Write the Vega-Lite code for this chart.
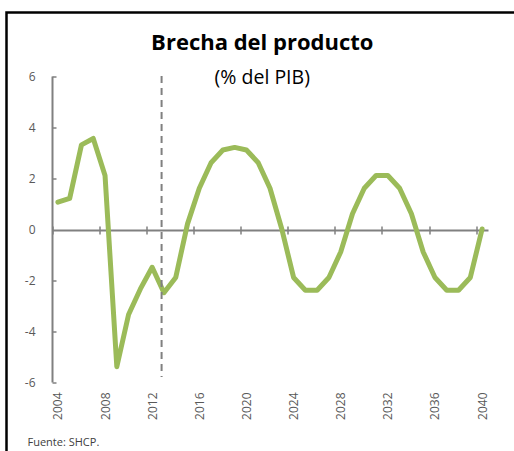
{
  "$schema": "https://vega.github.io/schema/vega-lite/v6.json",
  "width": 507.5,
  "height": 438.5,
  "autosize": {"type": "none"},
  "padding": {"left": 6.5, "top": 12.5, "right": 0, "bottom": 0},
  "background": "white",
  "view": {"stroke": "black", "strokeWidth": 2.5, "strokeDash": [507.5, 946, 500], "fill": "white"},
  "title": {
    "text": "Brecha del producto",
    "subtitle": "(% del PIB)",
    "anchor": "middle",
    "frame": "group",
    "dx": 2,
    "font": "Open Sans",
    "fontSize": 22,
    "fontWeight": "bold",
    "color": "black",
    "subtitleFont": "Open Sans",
    "subtitleFontSize": 19.5,
    "subtitleColor": "black",
    "subtitlePadding": 14,
    "offset": -76
  },
  "layer": [
    {
      "data": {"values": [
        {"year": 2004, "value": 1.05}, {"year": 2005, "value": 1.2}, {"year": 2006, "value": 3.3},
        {"year": 2007, "value": 3.55}, {"year": 2008, "value": 2.1}, {"year": 2009, "value": -5.4},
        {"year": 2010, "value": -3.35}, {"year": 2011, "value": -2.35}, {"year": 2012, "value": -1.5},
        {"year": 2013, "value": -2.5}, {"year": 2014, "value": -1.9}, {"year": 2015, "value": 0.2},
        {"year": 2016, "value": 1.6}, {"year": 2017, "value": 2.6}, {"year": 2018, "value": 3.1},
        {"year": 2019, "value": 3.2}, {"year": 2020, "value": 3.1}, {"year": 2021, "value": 2.6},
        {"year": 2022, "value": 1.6}, {"year": 2023, "value": 0.0}, {"year": 2024, "value": -1.9},
        {"year": 2025, "value": -2.4}, {"year": 2026, "value": -2.4}, {"year": 2027, "value": -1.9},
        {"year": 2028, "value": -0.9}, {"year": 2029, "value": 0.6}, {"year": 2030, "value": 1.6},
        {"year": 2031, "value": 2.1}, {"year": 2032, "value": 2.1}, {"year": 2033, "value": 1.6},
        {"year": 2034, "value": 0.6}, {"year": 2035, "value": -0.9}, {"year": 2036, "value": -1.9},
        {"year": 2037, "value": -2.4}, {"year": 2038, "value": -2.4}, {"year": 2039, "value": -1.9},
        {"year": 2040, "value": 0.0}
      ]},
      "mark": {"type": "line", "color": "#9BBB59", "strokeWidth": 5, "strokeCap": "round", "strokeJoin": "round"},
      "encoding": {
        "x": {
          "field": "year", "type": "quantitative",
          "scale": {"domain": [2003.5, 2040.5], "range": [45.5, 481.5], "nice": false, "zero": false},
          "axis": {
            "orient": "bottom",
            "offset": -221,
            "values": [2004, 2008, 2012, 2016, 2020, 2024, 2028, 2032, 2036, 2040],
            "format": "d",
            "grid": false,
            "domain": true, "domainColor": "#808080", "domainWidth": 2,
            "ticks": true, "tickColor": "#808080", "tickWidth": 1.5, "tickSize": 4,
            "tickOffset": -5.89, "labelOffset": 5.89,
            "labelAngle": 270, "labelPadding": 158,
            "labelFont": "Open Sans", "labelFontSize": 12, "labelColor": "#595959",
            "title": "Fuente: SHCP.",
            "titleX": 20.5, "titleY": 215, "titleAlign": "left", "titleBaseline": "alphabetic",
            "titleFont": "Open Sans", "titleFontSize": 11, "titleFontWeight": "normal", "titleColor": "#404040"
          }
        },
        "y": {
          "field": "value", "type": "quantitative",
          "scale": {"domain": [-6, 6], "range": [369.5, 63.5], "nice": false, "zero": false},
          "axis": {
            "orient": "left",
            "offset": -45.5,
            "values": [-6, -4, -2, 0, 2, 4, 6],
            "labelExpr": "datum.value < 0 ? '-' + abs(datum.value) : '' + datum.value",
            "grid": false,
            "domain": true, "domainColor": "#808080", "domainWidth": 2,
            "ticks": false,
            "labelPadding": 17,
            "labelFont": "Open Sans", "labelFontSize": 12, "labelColor": "#595959",
            "title": null
          }
        }
      }
    },
    {
      "data": {"values": [{"x": 2012.8, "top": 6, "bottom": -5.8}]},
      "mark": {"type": "rule", "color": "#808080", "strokeWidth": 2, "strokeDash": [7, 5]},
      "encoding": {
        "x": {
          "field": "x", "type": "quantitative",
          "scale": {"domain": [2003.5, 2040.5], "range": [45.5, 481.5], "nice": false, "zero": false},
          "axis": {
            "orient": "top",
            "offset": -217.5,
            "values": [2004, 2008, 2012, 2016, 2020, 2024, 2028, 2032, 2036, 2040],
            "grid": false, "domain": false, "labels": false,
            "ticks": true, "tickColor": "#808080", "tickWidth": 1.5, "tickSize": 4,
            "tickOffset": -5.89,
            "title": null
          }
        },
        "y": {
          "field": "top", "type": "quantitative",
          "scale": {"domain": [-6, 6], "range": [369.5, 63.5], "nice": false, "zero": false},
          "axis": {
            "orient": "right",
            "offset": -462,
            "values": [-6, -4, -2, 2, 4, 6],
            "grid": false, "domain": false, "labels": false,
            "ticks": true, "tickColor": "#808080", "tickWidth": 1.5, "tickSize": 4,
            "title": null
          }
        },
        "y2": {"field": "bottom"}
      }
    }
  ],
  "resolve": {"axis": {"x": "independent", "y": "independent"}}
}
